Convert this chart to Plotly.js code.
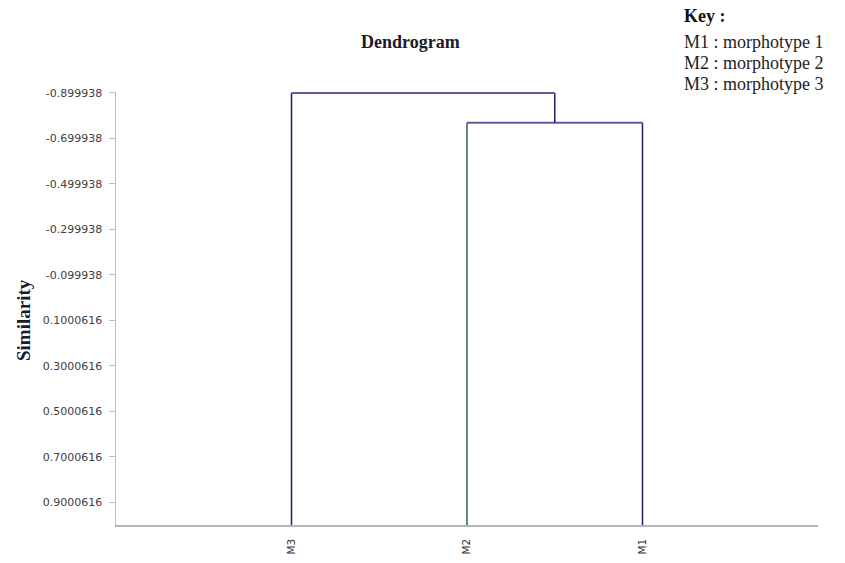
<!DOCTYPE html>
<html>
<head>
<meta charset="utf-8">
<script src="https://cdn.plot.ly/plotly-3.0.1.min.js"></script>
<style>html,body{margin:0;padding:0;background:#fff;}#chart{width:845px;height:563px;}</style>
</head>
<body>
<div id="chart"></div>
<script>
// ---- data ----
const leaves = ['M3', 'M2', 'M1'];
const leafHeight = 1.0000616;             // similarity level of the leaves (baseline)
const mergeNames = ['C1', 'C2'];
const mergeLeft = ['M2', 'M3'];
const mergeRight = ['M1', 'C1'];
const mergeHeights = [-0.769, -0.8999];
const yTickVals = [-0.899938, -0.699938, -0.499938, -0.299938, -0.099938, 0.1000616, 0.3000616, 0.5000616, 0.7000616, 0.9000616];
const yTickText = ['-0.899938', '-0.699938', '-0.499938', '-0.299938', '-0.099938', '0.1000616', '0.3000616', '0.5000616', '0.7000616', '0.9000616'];
const keyLines = ['M1 : morphotype 1', 'M2 : morphotype 2', 'M3 : morphotype 3'];

// ---- build dendrogram segments ----
const pos = {}, height = {};
leaves.forEach((l, i) => { pos[l] = i + 1; height[l] = leafHeight; });
const vColor = '#1f1f66', hColor = '#5f5d9f', tealColor = '#3a5a5c';
const traces = [];
function seg(x, y, color, w) {
  traces.push({type: 'scatter', mode: 'lines', x: x, y: y, line: {color: color, width: w}, hoverinfo: 'skip', showlegend: false});
}
mergeNames.forEach((m, i) => {
  const a = mergeLeft[i], b = mergeRight[i], h = mergeHeights[i];
  seg([pos[a], pos[a]], [height[a], h], a === 'M2' ? tealColor : vColor, 1.5);
  seg([pos[b], pos[b]], [height[b], h], b === 'M2' ? tealColor : vColor, 1.5);
  seg([pos[a], pos[b]], [h, h], hColor, 2);
  pos[m] = (pos[a] + pos[b]) / 2;
  height[m] = h;
});

const W = 845, H = 563, L = 116, R = 27, T = 92, B = 38;
const pw = W - L - R, ph = H - T - B;
const px = x => (x - L) / pw;
const py = y => (H - B - y) / ph;

const annotations = [
  {text: '<b>Dendrogram</b>', xref: 'paper', yref: 'paper', x: px(410), y: py(42), xanchor: 'center', yanchor: 'middle', showarrow: false,
   font: {family: 'Liberation Serif', size: 18, color: '#1a1a2a'}},
  {text: '<b>Similarity</b>', xref: 'paper', yref: 'paper', x: px(23), y: py(320), xanchor: 'center', yanchor: 'middle', textangle: -90, showarrow: false,
   font: {family: 'Liberation Serif', size: 19, color: '#1a1a2a'}},
  {text: '<b>Key :</b>', xref: 'paper', yref: 'paper', x: px(682), y: py(16), xanchor: 'left', yanchor: 'middle', showarrow: false,
   font: {family: 'Liberation Serif', size: 18, color: '#111'}}
];
keyLines.forEach((t, i) => {
  annotations.push({text: t, xref: 'paper', yref: 'paper', x: px(682), y: py(42 + i * 21), xanchor: 'left', yanchor: 'middle', showarrow: false,
    font: {family: 'Liberation Serif', size: 18, color: '#222'}});
});

const layout = {
  width: W, height: H,
  margin: {l: L, r: R, t: T, b: B, pad: 0},
  paper_bgcolor: '#fff', plot_bgcolor: '#fff',
  showlegend: false,
  xaxis: {
    range: [0, 4], showgrid: false, zeroline: false, showline: true, linecolor: '#b5b5b5', linewidth: 1.5,
    tickmode: 'array', tickvals: leaves.map((l, i) => i + 1), ticktext: leaves, tickangle: -90, ticks: '',
    ticklabelstandoff: 8,
    tickfont: {family: 'DejaVu Sans', size: 10.5, color: '#333'}, automargin: false, fixedrange: true
  },
  yaxis: {
    range: [leafHeight, -0.904], showgrid: false, zeroline: false, showline: true, linecolor: '#bdbdbd', linewidth: 1.5,
    tickmode: 'array', tickvals: yTickVals, ticktext: yTickText, ticks: 'outside', ticklen: 6, tickcolor: '#bdbdbd', tickwidth: 1,
    ticklabelstandoff: 4,
    tickfont: {family: 'DejaVu Sans', size: 11, color: '#404040'}, automargin: false, fixedrange: true
  },
  annotations: annotations
};

Plotly.newPlot('chart', traces, layout, {displayModeBar: false, staticPlot: true});
</script>
</body>
</html>
